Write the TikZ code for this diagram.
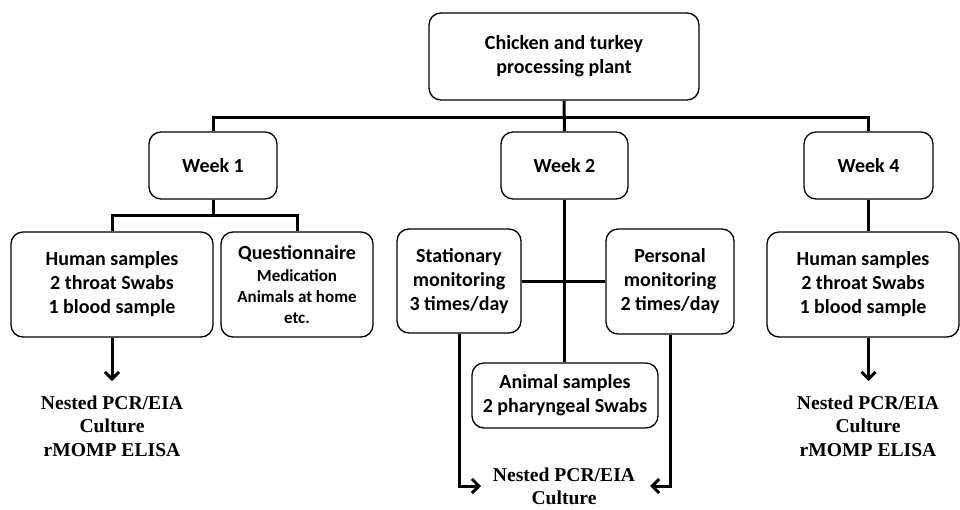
\documentclass[tikz,border=0pt]{standalone}
\usepackage{fontspec}
\setmainfont{Carlito}
\newfontfamily\tnr{Liberation Serif}
\usetikzlibrary{arrows.meta}
\begin{document}
\begin{tikzpicture}[x=1pt,y=-1pt,
 box/.style={draw, line width=1.3pt, rounded corners=12pt, align=center, inner sep=0pt,
   font=\fontsize{20}{24}\selectfont\bfseries},
 res/.style={align=center, inner sep=0pt, font=\fontsize{19.6}{23.5}\selectfont\tnr\bfseries},
 conn/.style={line width=3pt},
 arr/.style={line width=3pt, -{Straight Barb[length=7pt,width=14pt]}}]
\useasboundingbox (0,0) rectangle (960,509);

% boxes
\node[box, minimum width=270pt, minimum height=87pt] (top) at (564,56.5) {Chicken and turkey\\processing plant};
\node[box, minimum width=128pt, minimum height=67pt] (week1) at (213,165.5) {Week 1};
\node[box, minimum width=127pt, minimum height=67pt] (week2) at (564.5,165.5) {Week 2};
\node[box, minimum width=129pt, minimum height=67pt] (week4) at (868.5,165.5) {Week 4};
\node[box, minimum width=202pt, minimum height=105pt] (hum1) at (112,284.5) {Human samples\\2 throat Swabs\\1 blood sample};
\node[box, minimum width=152pt, minimum height=105pt] (quest) at (297,284.5)
  {Questionnaire\\[-2pt]{\fontsize{17}{20.5}\selectfont Medication}\\[-3pt]{\fontsize{17}{20.5}\selectfont Animals at home}\\[-3pt]{\fontsize{17}{20.5}\selectfont etc.}};
\node[box, minimum width=124pt, minimum height=104pt] (stat) at (459,281) {Stationary\\monitoring\\3 times/day};
\node[box, minimum width=128pt, minimum height=105pt] (pers) at (670,281.5) {Personal\\monitoring\\2 times/day};
\node[box, minimum width=186pt, minimum height=65pt] (animal) at (565,395.5) {Animal samples\\2 pharyngeal Swabs};
\node[box, minimum width=192pt, minimum height=105pt] (hum4) at (863,284.5) {Human samples\\2 throat Swabs\\1 blood sample};

% result texts
\node[res] (res1) at (112,426) {Nested PCR/EIA\\Culture\\rMOMP ELISA};
\node[res] (res2) at (564,486.5) {Nested PCR/EIA\\Culture};
\node[res] (res4) at (868,426) {Nested PCR/EIA\\Culture\\rMOMP ELISA};

% helper coordinates
\coordinate (bus) at (0,117);
\coordinate (j1) at (0,215);
\coordinate (t1) at (112,381);
\coordinate (t4) at (868.5,381);
\coordinate (tipL) at (481,486);
\coordinate (tipR) at (650,486);

% connectors
\draw[conn] (top.south) -- (week2.north);
\draw[conn] (week1.north) -- (week1.north |- bus) -- (week4.north |- bus) -- (week4.north);
\draw[conn] (week1.south) -- (week1.south |- j1);
\draw[conn] (hum1.north) -- (hum1.north |- j1) -- (quest.north |- j1) -- (quest.north);
\draw[conn] (week2.south) -- (week2.south |- animal.north);
\draw[conn] (stat.east) -- (stat.east -| pers.west);
\draw[conn] (week4.south) -- (week4.south |- hum4.north);
\draw[arr] (hum1.south) -- (t1);
\draw[arr] (hum4.south -| t4) -- (t4);
\draw[arr] (stat.south) |- (tipL);
\draw[arr] (pers.south) |- (tipR);
\end{tikzpicture}
\end{document}
